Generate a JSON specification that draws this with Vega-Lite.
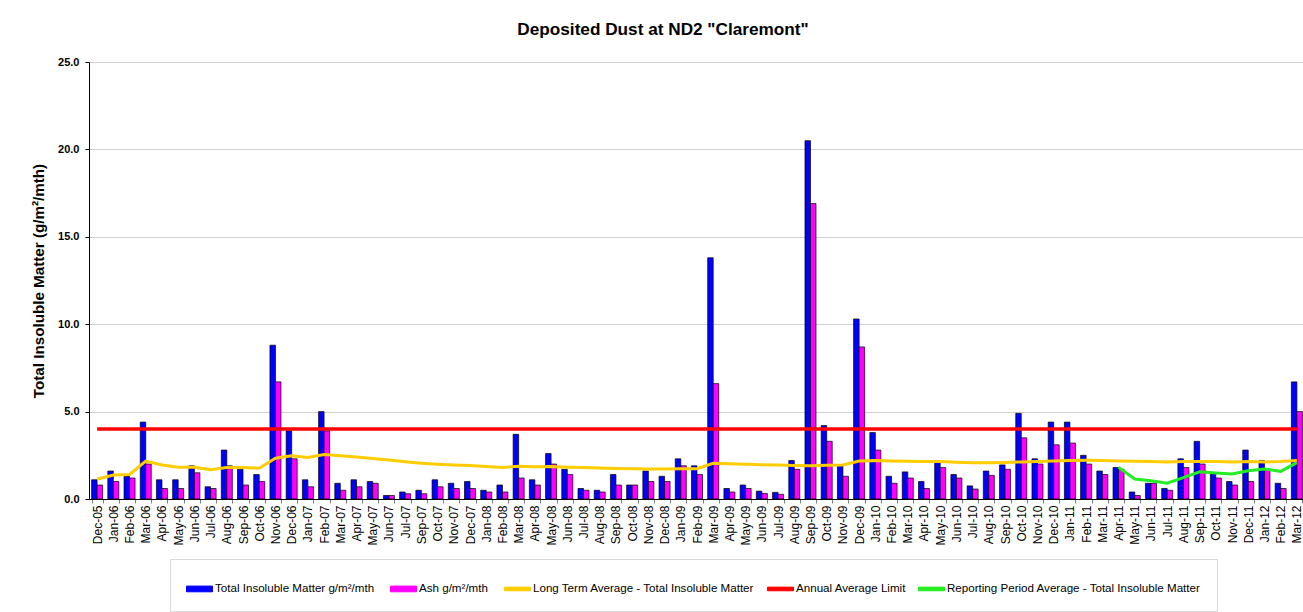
{
  "$schema": "https://vega.github.io/schema/vega-lite/v6.json",
  "width": 1216,
  "height": 437,
  "autosize": {"type": "none"},
  "padding": {"left": 89, "top": 62, "right": 0, "bottom": 113},
  "background": "white",
  "config": {"font": "Liberation Sans", "view": {"stroke": null}},
  "title": {"text": "Deposited Dust at ND2 \"Claremont\"", "fontSize": 17.2, "fontWeight": "bold", "font": "Liberation Sans", "color": "black", "offset": 18, "dx": -34, "anchor": "middle"},
  "data": {"values": [
    {"i": 0, "m": "Dec-05", "TIM": 1.1, "ASH": 0.8, "LTA": 1.13, "LIM": 4.0},
    {"i": 1, "m": "Jan-06", "TIM": 1.6, "ASH": 1.0, "LTA": 1.37},
    {"i": 2, "m": "Feb-06", "TIM": 1.3, "ASH": 1.2, "LTA": 1.4},
    {"i": 3, "m": "Mar-06", "TIM": 4.4, "ASH": 2.0, "LTA": 2.17},
    {"i": 4, "m": "Apr-06", "TIM": 1.1, "ASH": 0.6, "LTA": 1.95},
    {"i": 5, "m": "May-06", "TIM": 1.1, "ASH": 0.6, "LTA": 1.82},
    {"i": 6, "m": "Jun-06", "TIM": 1.9, "ASH": 1.5, "LTA": 1.82},
    {"i": 7, "m": "Jul-06", "TIM": 0.7, "ASH": 0.6, "LTA": 1.67},
    {"i": 8, "m": "Aug-06", "TIM": 2.8, "ASH": 1.9, "LTA": 1.8},
    {"i": 9, "m": "Sep-06", "TIM": 1.7, "ASH": 0.8, "LTA": 1.8},
    {"i": 10, "m": "Oct-06", "TIM": 1.4, "ASH": 1.0, "LTA": 1.76},
    {"i": 11, "m": "Nov-06", "TIM": 8.8, "ASH": 6.7, "LTA": 2.33},
    {"i": 12, "m": "Dec-06", "TIM": 3.9, "ASH": 2.3, "LTA": 2.47},
    {"i": 13, "m": "Jan-07", "TIM": 1.1, "ASH": 0.7, "LTA": 2.37},
    {"i": 14, "m": "Feb-07", "TIM": 5.0, "ASH": 3.9, "LTA": 2.55},
    {"i": 15, "m": "Mar-07", "TIM": 0.9, "ASH": 0.5, "LTA": 2.48},
    {"i": 16, "m": "Apr-07", "TIM": 1.1, "ASH": 0.7, "LTA": 2.4},
    {"i": 17, "m": "May-07", "TIM": 1.0, "ASH": 0.9, "LTA": 2.32},
    {"i": 18, "m": "Jun-07", "TIM": 0.2, "ASH": 0.2, "LTA": 2.23},
    {"i": 19, "m": "Jul-07", "TIM": 0.4, "ASH": 0.3, "LTA": 2.13},
    {"i": 20, "m": "Sep-07", "TIM": 0.5, "ASH": 0.3, "LTA": 2.05},
    {"i": 21, "m": "Oct-07", "TIM": 1.1, "ASH": 0.7, "LTA": 1.99},
    {"i": 22, "m": "Nov-07", "TIM": 0.9, "ASH": 0.6, "LTA": 1.95},
    {"i": 23, "m": "Dec-07", "TIM": 1.0, "ASH": 0.6, "LTA": 1.91},
    {"i": 24, "m": "Jan-08", "TIM": 0.5, "ASH": 0.4, "LTA": 1.86},
    {"i": 25, "m": "Feb-08", "TIM": 0.8, "ASH": 0.4, "LTA": 1.8},
    {"i": 26, "m": "Mar-08", "TIM": 3.7, "ASH": 1.2, "LTA": 1.87},
    {"i": 27, "m": "Apr-08", "TIM": 1.1, "ASH": 0.8, "LTA": 1.84},
    {"i": 28, "m": "May-08", "TIM": 2.6, "ASH": 2.0, "LTA": 1.86},
    {"i": 29, "m": "Jun-08", "TIM": 1.7, "ASH": 1.4, "LTA": 1.82},
    {"i": 30, "m": "Jul-08", "TIM": 0.6, "ASH": 0.5, "LTA": 1.8},
    {"i": 31, "m": "Aug-08", "TIM": 0.5, "ASH": 0.4, "LTA": 1.77},
    {"i": 32, "m": "Sep-08", "TIM": 1.4, "ASH": 0.8, "LTA": 1.75},
    {"i": 33, "m": "Oct-08", "TIM": 0.8, "ASH": 0.8, "LTA": 1.73},
    {"i": 34, "m": "Nov-08", "TIM": 1.6, "ASH": 1.0, "LTA": 1.72},
    {"i": 35, "m": "Dec-08", "TIM": 1.3, "ASH": 1.0, "LTA": 1.71},
    {"i": 36, "m": "Jan-09", "TIM": 2.3, "ASH": 1.9, "LTA": 1.73},
    {"i": 37, "m": "Feb-09", "TIM": 1.9, "ASH": 1.4, "LTA": 1.73},
    {"i": 38, "m": "Mar-09", "TIM": 13.8, "ASH": 6.6, "LTA": 2.04},
    {"i": 39, "m": "Apr-09", "TIM": 0.6, "ASH": 0.4, "LTA": 2.01},
    {"i": 40, "m": "May-09", "TIM": 0.8, "ASH": 0.6, "LTA": 1.99},
    {"i": 41, "m": "Jun-09", "TIM": 0.45, "ASH": 0.32, "LTA": 1.96},
    {"i": 42, "m": "Jul-09", "TIM": 0.38, "ASH": 0.27, "LTA": 1.94},
    {"i": 43, "m": "Aug-09", "TIM": 2.2, "ASH": 1.7, "LTA": 1.91},
    {"i": 44, "m": "Sep-09", "TIM": 20.5, "ASH": 16.9, "LTA": 1.9},
    {"i": 45, "m": "Oct-09", "TIM": 4.2, "ASH": 3.3, "LTA": 1.93},
    {"i": 46, "m": "Nov-09", "TIM": 1.9, "ASH": 1.3, "LTA": 1.95},
    {"i": 47, "m": "Dec-09", "TIM": 10.3, "ASH": 8.7, "LTA": 2.17},
    {"i": 48, "m": "Jan-10", "TIM": 3.8, "ASH": 2.8, "LTA": 2.2},
    {"i": 49, "m": "Feb-10", "TIM": 1.3, "ASH": 0.9, "LTA": 2.17},
    {"i": 50, "m": "Mar-10", "TIM": 1.55, "ASH": 1.2, "LTA": 2.16},
    {"i": 51, "m": "Apr-10", "TIM": 1.0, "ASH": 0.6, "LTA": 2.15},
    {"i": 52, "m": "May-10", "TIM": 2.2, "ASH": 1.8, "LTA": 2.15},
    {"i": 53, "m": "Jun-10", "TIM": 1.4, "ASH": 1.2, "LTA": 2.1},
    {"i": 54, "m": "Jul-10", "TIM": 0.75, "ASH": 0.57, "LTA": 2.07},
    {"i": 55, "m": "Aug-10", "TIM": 1.6, "ASH": 1.35, "LTA": 2.07},
    {"i": 56, "m": "Sep-10", "TIM": 1.95, "ASH": 1.7, "LTA": 2.09},
    {"i": 57, "m": "Oct-10", "TIM": 4.9, "ASH": 3.5, "LTA": 2.12},
    {"i": 58, "m": "Nov-10", "TIM": 2.3, "ASH": 2.0, "LTA": 2.14},
    {"i": 59, "m": "Dec-10", "TIM": 4.4, "ASH": 3.1, "LTA": 2.17},
    {"i": 60, "m": "Jan-11", "TIM": 4.4, "ASH": 3.2, "LTA": 2.2},
    {"i": 61, "m": "Feb-11", "TIM": 2.5, "ASH": 2.0, "LTA": 2.21},
    {"i": 62, "m": "Mar-11", "TIM": 1.6, "ASH": 1.4, "LTA": 2.2},
    {"i": 63, "m": "Apr-11", "TIM": 1.8, "ASH": 1.7, "LTA": 2.18, "RPA": 1.81},
    {"i": 64, "m": "May-11", "TIM": 0.4, "ASH": 0.2, "LTA": 2.16, "RPA": 1.14},
    {"i": 65, "m": "Jun-11", "TIM": 0.9, "ASH": 0.9, "LTA": 2.14, "RPA": 1.05},
    {"i": 66, "m": "Jul-11", "TIM": 0.6, "ASH": 0.5, "LTA": 2.12, "RPA": 0.9},
    {"i": 67, "m": "Aug-11", "TIM": 2.3, "ASH": 1.8, "LTA": 2.14, "RPA": 1.22},
    {"i": 68, "m": "Sep-11", "TIM": 3.3, "ASH": 2.0, "LTA": 2.14, "RPA": 1.56},
    {"i": 69, "m": "Oct-11", "TIM": 1.45, "ASH": 1.2, "LTA": 2.14, "RPA": 1.49},
    {"i": 70, "m": "Nov-11", "TIM": 1.0, "ASH": 0.8, "LTA": 2.12, "RPA": 1.43},
    {"i": 71, "m": "Dec-11", "TIM": 2.8, "ASH": 1.0, "LTA": 2.14, "RPA": 1.62},
    {"i": 72, "m": "Jan-12", "TIM": 2.2, "ASH": 1.7, "LTA": 2.12, "RPA": 1.72},
    {"i": 73, "m": "Feb-12", "TIM": 0.9, "ASH": 0.6, "LTA": 2.14, "RPA": 1.58},
    {"i": 74, "m": "Mar-12", "TIM": 6.7, "ASH": 5.0, "LTA": 2.2, "RPA": 2.08, "LIM": 4.0}
  ]},
  "transform": [
    {"fold": ["TIM", "ASH", "LTA", "LIM", "RPA"], "as": ["s", "v"]},
    {"filter": "isValid(datum.v)"}
  ],
  "encoding": {
    "x": {
      "field": "m", "type": "nominal", "sort": {"field": "i", "op": "min"},
      "scale": {"paddingInner": 0.32, "paddingOuter": 0.16},
      "axis": {"title": null, "labelAngle": -90, "labelFontSize": 12, "labelColor": "black", "labelFont": "Liberation Sans", "tickBand": "extent", "tickSize": 4, "tickColor": "#808080", "labelPadding": 2, "domainColor": "black", "grid": false, "labelOverlap": false}
    },
    "y": {
      "field": "v", "type": "quantitative",
      "scale": {"domain": [0, 25], "nice": false},
      "axis": {"title": "Total Insoluble Matter  (g/m²/mth)", "titleFontSize": 15.2, "titleFontWeight": "bold", "titleColor": "black", "titleFont": "Liberation Sans", "titlePadding": 11, "values": [0, 5, 10, 15, 20, 25], "format": ".1f", "labelFontSize": 11, "labelFontWeight": "bold", "labelColor": "black", "tickSize": 4, "tickColor": "black", "labelPadding": 6, "domainColor": "black", "grid": true, "gridColor": "#D0D0D0"}
    },
    "color": {
      "field": "s", "type": "nominal",
      "scale": {"domain": ["TIM", "ASH", "LTA", "LIM", "RPA"], "range": ["#0000FF", "#FF00FF", "#FFCC00", "#FF0000", "#22EE22"]},
      "legend": {
        "title": null, "orient": "none", "legendX": 81, "legendY": 497, "direction": "horizontal", "columns": 5,
        "columnPadding": 10, "padding": 16, "strokeColor": "#D9D9D9", "fillColor": "white",
        "symbolSize": 676, "symbolType": "M-1,-0.22H1V0.22H-1Z",
        "labelFontSize": 11.6, "labelFont": "Liberation Sans", "labelColor": "black", "labelLimit": 400, "labelOffset": 2,
        "labelExpr": "datum.label == 'TIM' ? 'Total Insoluble Matter  g/m²/mth' : datum.label == 'ASH' ? 'Ash  g/m²/mth' : datum.label == 'LTA' ? 'Long Term Average - Total Insoluble Matter' : datum.label == 'LIM' ? 'Annual Average Limit' : 'Reporting Period Average - Total Insoluble Matter'",
        "encode": {"symbols": {"update": {
          "shape": {"signal": "datum.index < 2 ? 'M-1,-0.22H1V0.22H-1Z' : 'M-1,-0.14H1V0.14H-1Z'"},
          "fill": {"scale": "color", "field": "value"},
          "stroke": {"signal": "datum.index < 2 ? 'black' : 'transparent'"},
          "strokeWidth": {"value": 1},
          "opacity": {"value": 1}
        }}}
      }
    }
  },
  "layer": [
    {
      "transform": [{"filter": {"field": "s", "oneOf": ["TIM", "ASH"]}}],
      "mark": {"type": "bar", "stroke": "black", "strokeWidth": 0.7},
      "encoding": {"xOffset": {"field": "s", "type": "nominal", "sort": ["TIM", "ASH"], "scale": {"paddingInner": 0, "paddingOuter": 0}}}
    },
    {
      "transform": [{"filter": {"field": "s", "equal": "LTA"}}],
      "mark": {"type": "line", "strokeWidth": 3},
      "encoding": {"order": {"field": "i"}}
    },
    {
      "transform": [{"filter": {"field": "s", "equal": "LIM"}}],
      "mark": {"type": "line", "strokeWidth": 3.5},
      "encoding": {"order": {"field": "i"}}
    },
    {
      "transform": [{"filter": {"field": "s", "equal": "RPA"}}],
      "mark": {"type": "line", "strokeWidth": 3},
      "encoding": {"order": {"field": "i"}}
    }
  ]
}
